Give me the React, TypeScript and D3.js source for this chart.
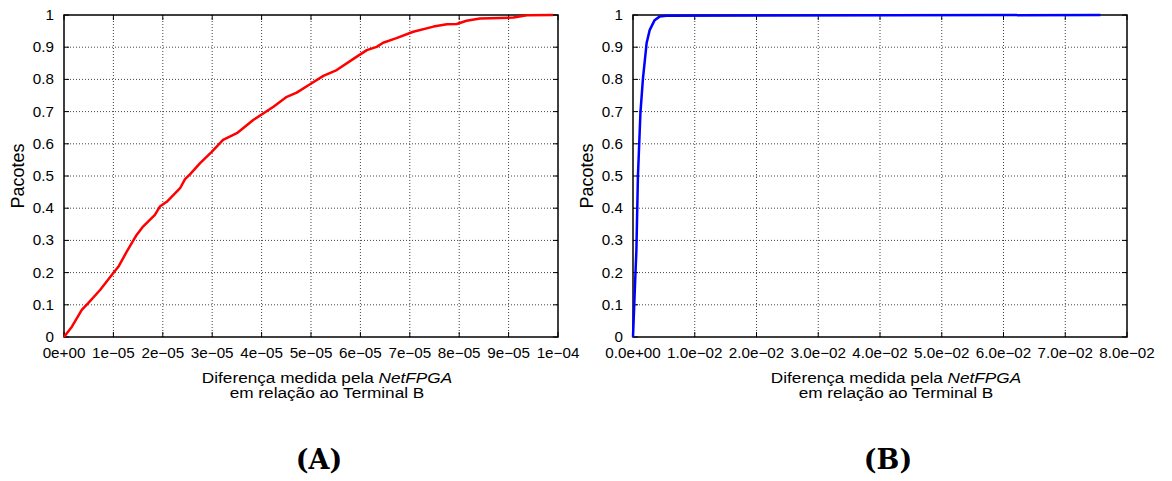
import React from 'react'
import * as d3 from 'd3'

// y axis (fraction of packets)
const yTickLabels = ['0', '0.1', '0.2', '0.3', '0.4', '0.5', '0.6', '0.7', '0.8', '0.9', '1']

// x tick labels, left and right panel
const xTickLabelsA = ['0e+00', '1e\u221205', '2e\u221205', '3e\u221205', '4e\u221205', '5e\u221205',
  '6e\u221205', '7e\u221205', '8e\u221205', '9e\u221205', '1e\u221204']
const xTickLabelsB = ['0.0e+00', '1.0e\u221202', '2.0e\u221202', '3.0e\u221202', '4.0e\u221202',
  '5.0e\u221202', '6.0e\u221202', '7.0e\u221202', '8.0e\u221202']

// (A) CDF, x in units of 1e-5
const redX = [0, 0.05, 0.16, 0.36, 0.49, 0.73, 0.97, 1.1, 1.27, 1.47, 1.6, 1.84, 1.94, 2.08, 2.35,
  2.45, 2.55, 2.75, 2.99, 3.22, 3.5, 3.83, 4.24, 4.51, 4.71, 4.98, 5.25, 5.52, 5.92, 6.13, 6.33,
  6.46, 6.73, 7.07, 7.48, 7.75, 7.95, 8.15, 8.42, 9.1, 9.37, 9.9].map(v => v * 1e-5)
const redY = [0, 0.01, 0.032, 0.084, 0.105, 0.146, 0.193, 0.218, 0.265, 0.317, 0.343, 0.379, 0.405,
  0.42, 0.462, 0.49, 0.505, 0.539, 0.575, 0.612, 0.633, 0.674, 0.715, 0.746, 0.759, 0.785, 0.811,
  0.829, 0.87, 0.891, 0.901, 0.914, 0.928, 0.948, 0.964, 0.971, 0.972, 0.982, 0.989, 0.992, 0.999, 1]

// (B) CDF, x in units of 1e-2
const blueX = [0, 0.03, 0.055, 0.08, 0.12, 0.16, 0.22, 0.27, 0.35, 0.43, 0.54, 7.57].map(v => v * 1e-2)
const blueY = [0, 0.15, 0.27, 0.5, 0.695, 0.8, 0.912, 0.953, 0.984, 0.995, 0.998, 1]

const W = 1172
const H = 481
const TOP = 15
const BOTTOM = 337
const SANS = '"Liberation Sans", Arial, Helvetica, sans-serif'

function Panel(props: any) {
  const { x0, x1, xMax, xLabels, xs, ys, color, caption } = props
  const x = d3.scaleLinear().domain([0, xMax]).range([x0, x1])
  const y = d3.scaleLinear().domain([0, 1]).range([BOTTOM, TOP])
  const xTicks = xLabels.map((_: string, i: number) => (xMax * i) / (xLabels.length - 1))
  const yTicks = yTickLabels.map(Number)
  const line = d3.line<number>()
    .x(i => x(xs[i]))
    .y(i => y(ys[i]))
  const idx = xs.map((_: number, i: number) => i)
  const cx = (x0 + x1) / 2

  return (
    <g>
      {/* grid */}
      {yTicks.slice(1, -1).map((t: number) => (
        <line key={'gy' + t} x1={x0} x2={x1} y1={y(t)} y2={y(t)}
          stroke="#444" strokeWidth={1} strokeDasharray="1,2" />
      ))}
      {xTicks.slice(1, -1).map((t: number) => (
        <line key={'gx' + t} x1={x(t)} x2={x(t)} y1={TOP} y2={BOTTOM}
          stroke="#444" strokeWidth={1} strokeDasharray="1,2" />
      ))}
      {/* tick marks, mirrored */}
      {yTicks.map((t: number) => (
        <g key={'ty' + t}>
          <line x1={x0} x2={x0 + 5} y1={y(t)} y2={y(t)} stroke="#000" />
          <line x1={x1 - 5} x2={x1} y1={y(t)} y2={y(t)} stroke="#000" />
        </g>
      ))}
      {xTicks.map((t: number) => (
        <g key={'tx' + t}>
          <line x1={x(t)} x2={x(t)} y1={BOTTOM} y2={BOTTOM - 5} stroke="#000" />
          <line x1={x(t)} x2={x(t)} y1={TOP} y2={TOP + 5} stroke="#000" />
        </g>
      ))}
      <rect x={x0} y={TOP} width={x1 - x0} height={BOTTOM - TOP} fill="none" stroke="#000" strokeWidth={1.5} />
      <path d={line(idx) || ''} fill="none" stroke={color} strokeWidth={2.5} strokeLinejoin="round" />

      {/* tick labels */}
      {yTickLabels.map((s, i) => (
        <text key={'ly' + s} transform={`translate(${x0 - 10},${y(yTicks[i]) + 5}) scale(1.05,1)`}
          textAnchor="end" fontFamily={SANS} fontSize={14.5}>{s}</text>
      ))}
      {xLabels.map((s: string, i: number) => (
        <text key={'lx' + s} transform={`translate(${x(xTicks[i])},${358}) scale(1.05,1)`}
          textAnchor="middle" fontFamily={SANS} fontSize={14.5}>{s}</text>
      ))}

      {/* axis titles */}
      <text transform={`translate(${x0 - 46},${(TOP + BOTTOM) / 2}) rotate(-90)`}
        textAnchor="middle" dominantBaseline="central" fontFamily={SANS} fontSize={18}>Pacotes</text>
      <text transform={`translate(${cx + 16},383) scale(1.11,1)`} textAnchor="middle" fontFamily={SANS} fontSize={15.5}>
        Diferença medida pela <tspan fontStyle="italic">NetFPGA</tspan>
      </text>
      <text transform={`translate(${cx + 16},398) scale(1.11,1)`} textAnchor="middle" fontFamily={SANS} fontSize={15.5}>
        em relação ao Terminal B
      </text>

      <text x={cx + 8} y={469} textAnchor="middle" fontFamily='"DejaVu Serif", serif'
        fontWeight="bold" fontSize={27}>{caption}</text>
    </g>
  )
}

export default function App() {
  return (
    <svg width={W} height={H} style={{ position: 'absolute', left: 0, top: 0, background: '#fff' }}>
      <rect width={W} height={H} fill="#fff" />
      <Panel x0={64} x1={558} xMax={1e-4} xLabels={xTickLabelsA} xs={redX} ys={redY}
        color="#ff0000" caption="(A)" />
      <Panel x0={633} x1={1127} xMax={8e-2} xLabels={xTickLabelsB} xs={blueX} ys={blueY}
        color="#0000ff" caption="(B)" />
    </svg>
  )
}
